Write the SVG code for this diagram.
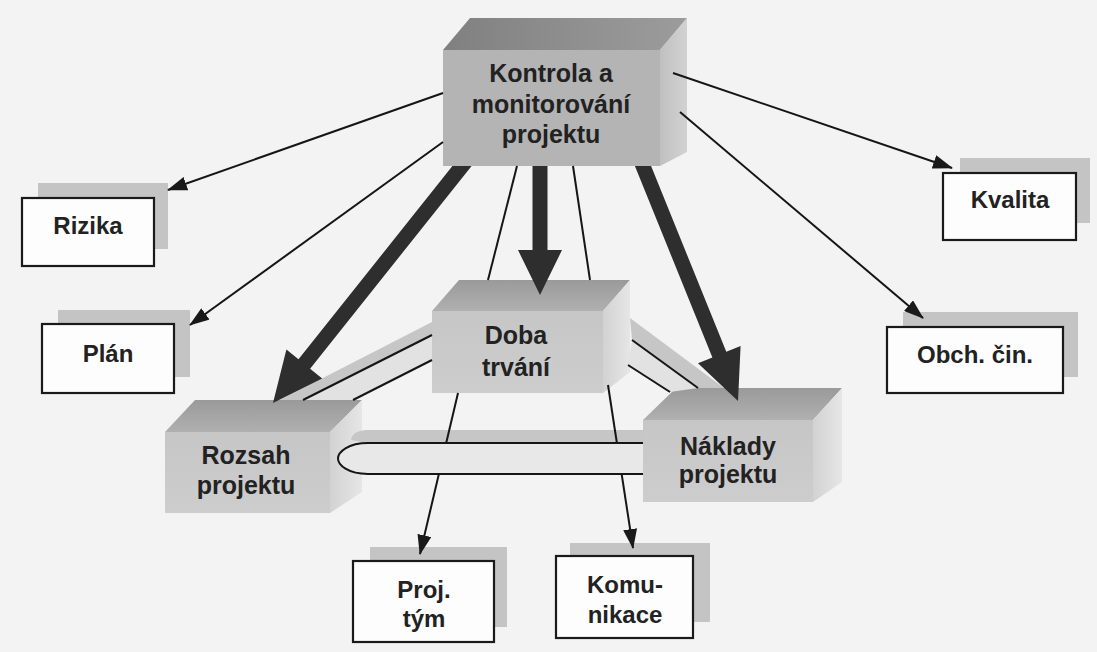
<svg xmlns="http://www.w3.org/2000/svg" width="1097" height="652" viewBox="0 0 1097 652">
<defs>
<linearGradient id="gTop" x1="0" y1="0" x2="0" y2="1"><stop offset="0" stop-color="#9a9a9a"/><stop offset="1" stop-color="#b0b0b0"/></linearGradient>
<linearGradient id="gFront" x1="0" y1="0" x2="0" y2="1"><stop offset="0" stop-color="#c6c6c6"/><stop offset="1" stop-color="#cdcdcd"/></linearGradient>
<linearGradient id="gRight" x1="0" y1="0" x2="1" y2="0"><stop offset="0" stop-color="#d2d2d2"/><stop offset="1" stop-color="#e6e6e6"/></linearGradient>
<linearGradient id="kTop" x1="0" y1="0" x2="1" y2="0"><stop offset="0" stop-color="#808080"/><stop offset="1" stop-color="#9c9c9c"/></linearGradient>
<linearGradient id="kRight" x1="0" y1="0" x2="1" y2="0"><stop offset="0" stop-color="#c0c0c0"/><stop offset="1" stop-color="#d2d2d2"/></linearGradient>
<marker id="ah" markerUnits="userSpaceOnUse" markerWidth="20" markerHeight="14" refX="19" refY="7" orient="auto"><path d="M0,0 L20,7 L0,14 Z" fill="#1a1a1a"/></marker>
<style>
.bg{fill:#f3f3f3}
.box{fill:#fdfdfd;stroke:#1a1a1a;stroke-width:2.2}
.sh{fill:#c4c4c4}
.top{fill:url(#gTop)}
.front{fill:url(#gFront)}
.right{fill:url(#gRight)}
.t{font-family:"Liberation Sans",Arial,sans-serif;font-weight:bold;font-size:24px;fill:#222;text-anchor:middle}
.tc{font-size:25px}
.ln{stroke:#151515;stroke-width:2;fill:none}
.arr{stroke:#151515;stroke-width:2;fill:none;marker-end:url(#ah)}
.thick{fill:#2e2e2e}
.rib{fill:#c6c6c6}
.ribl{fill:#e2e2e2}
</style>
</defs>
<rect class="bg" x="0" y="0" width="1097" height="652"/>

<g id="node-kontrola">
<polygon points="443,50 470,18 687,18 660,50" fill="url(#kTop)"/>
<polygon points="660,50 687,18 687,152 660,166" fill="url(#kRight)"/>
<rect x="443" y="50" width="217" height="116" fill="#b4b4b4"/>
<text class="t tc" x="551" y="82">Kontrola a</text>
<text class="t tc" x="551" y="113">monitorování</text>
<text class="t tc" x="551" y="143">projektu</text>
</g>

<g id="node-doba">
<polygon class="top" points="432,311 459,280 630,280 603,311"/>
<polygon class="right" points="603,311 630,280 630,372 603,393"/>
<rect class="front" x="432" y="311" width="171" height="82"/>
<text class="t tc" x="516" y="344">Doba</text>
<text class="t tc" x="516" y="376">trvání</text>
</g>

<g id="node-rozsah">
<polygon class="top" points="165,432 195,400 362,400 330,432"/>
<polygon class="right" points="330,432 362,400 362,492 330,513"/>
<rect class="front" x="165" y="432" width="165" height="81"/>
<text class="t tc" x="246" y="464">Rozsah</text>
<text class="t tc" x="246" y="494">projektu</text>
</g>

<g id="node-naklady">
<polygon class="top" points="643,420 676,388 842,388 813,420"/>
<polygon class="right" points="813,420 842,388 842,482 813,502"/>
<rect class="front" x="643" y="420" width="170" height="82"/>
<text class="t tc" x="728" y="455">Náklady</text>
<text class="t tc" x="728" y="483">projektu</text>
</g>

<g id="node-rizika">
<rect class="sh" x="38" y="183" width="130" height="66"/>
<rect class="box" x="22" y="198" width="132" height="68"/>
<text class="t" x="88" y="234">Rizika</text>
</g>

<g id="node-plan">
<rect class="sh" x="58" y="310" width="132" height="67"/>
<rect class="box" x="42" y="324" width="132" height="69"/>
<text class="t" x="108" y="362">Plán</text>
</g>

<g id="node-kvalita">
<rect class="sh" x="960" y="158" width="130" height="65"/>
<rect class="box" x="943" y="173" width="133" height="67"/>
<text class="t" x="1010" y="208">Kvalita</text>
</g>

<g id="node-obch">
<rect class="sh" x="903" y="312" width="175" height="65"/>
<rect class="box" x="887" y="327" width="176" height="66"/>
<text class="t" x="975" y="363">Obch. čin.</text>
</g>

<g id="node-projtym">
<rect class="sh" x="370" y="547" width="137" height="80"/>
<rect class="box" x="353" y="561" width="141" height="81"/>
<text class="t" x="424" y="598">Proj.</text>
<text class="t" x="424" y="627">tým</text>
</g>

<g id="node-komunikace">
<rect class="sh" x="570" y="543" width="140" height="79"/>
<rect class="box" x="556" y="556" width="137" height="82"/>
<text class="t" x="625" y="593">Komu-</text>
<text class="t" x="625" y="623">nikace</text>
</g>

<g id="connectors">
<polygon class="rib" points="432,322 432,335 303,400 280,400"/>
<polygon class="ribl" points="432,335 432,360 353,400 303,400"/>
<polygon class="rib" points="630,318 632,340 698,388 724,388"/>
<polygon class="ribl" points="632,340 628,365 670,392 698,388"/>
<line class="ln" x1="432" y1="335" x2="303" y2="400"/>
<line class="ln" x1="432" y1="360" x2="353" y2="400"/>
<line class="ln" x1="632" y1="340" x2="698" y2="388"/>
<line class="ln" x1="628" y1="365" x2="670" y2="392"/>
<path class="rib" d="M643,430 L366,430 Q352,431 351,440 L368,443 L643,443 Z"/>
<line class="arr" x1="458" y1="393" x2="420" y2="554"/>
<line class="arr" x1="608" y1="385" x2="633" y2="548"/>
<path d="M643,443 L368,443 C348,443 338,452 338,458.5 C338,465 348,474 368,474 L643,474 Z" fill="#e8e8e8"/>
<path class="ln" d="M643,443 L368,443 C348,443 338,452 338,458.5 C338,465 348,474 368,474 L643,474"/>
<line class="ln" x1="517" y1="166" x2="488" y2="280"/>
<line class="ln" x1="573" y1="166" x2="590" y2="280"/>
<line class="arr" x1="443" y1="93" x2="168" y2="190"/>
<line class="arr" x1="443" y1="142" x2="190" y2="325"/>
<line class="arr" x1="673" y1="73" x2="952" y2="168"/>
<line class="arr" x1="680" y1="112" x2="923" y2="318"/>
<polygon class="thick" points="452.4,166 471.6,166 310.1,368.7 322.2,378.4 273,403 286.4,349.6 298.5,359.3"/>
<polygon class="thick" points="532.5,166 547.5,166 547.5,250 562,250 540,295 518,250 532.5,250"/>
<polygon class="thick" points="634.9,166 651.1,166 726.3,351.8 740.6,346 738,401 698,363.2 712.4,357.4"/>
</g>
</svg>
